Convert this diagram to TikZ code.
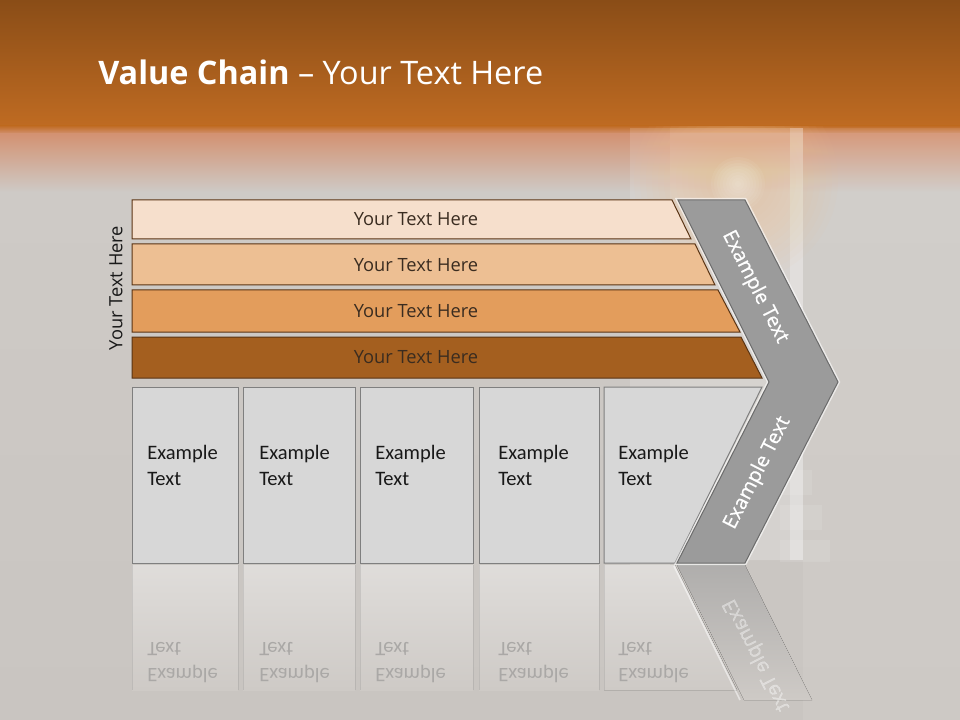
\documentclass[tikz,border=0pt]{standalone}
\usepackage{fontspec}
\setmainfont{Open Sans}
\newfontfamily\carlito{Carlito}
\newfontfamily\osemi[FakeBold=0.6]{Open Sans}
\usetikzlibrary{calc}
\definecolor{bandtop}{HTML}{8A4D17}
\definecolor{bandbot}{HTML}{BF6B22}
\definecolor{salmon}{HTML}{D39272}
\definecolor{bggrey}{HTML}{CECAC6}
\definecolor{bglow}{HTML}{C9C5C1}
\definecolor{barA}{HTML}{F6DFCC}
\definecolor{barB}{HTML}{EDBF93}
\definecolor{barC}{HTML}{E39D5C}
\definecolor{barD}{HTML}{A45F1F}
\definecolor{barline}{HTML}{5A3414}
\definecolor{bartext}{HTML}{3A2C20}
\definecolor{boxfill}{HTML}{D7D7D7}
\definecolor{boxline}{HTML}{7F7F7F}
\definecolor{chevfill}{HTML}{9B9B9B}
\definecolor{chevline}{HTML}{6B6B6B}
\definecolor{glow}{HTML}{F6C48E}
\definecolor{reftext}{HTML}{AAA8A6}
\tikzset{
  barshape/.style={draw=barline, line width=0.75pt},
  bartxt/.style={font=\fontsize{13.7}{16}\selectfont, text=bartext, inner sep=0pt},
  boxshape/.style={fill=boxfill, draw=boxline, line width=0.75pt},
  boxtxt/.style={font=\carlito\fontsize{15.4}{19.5}\selectfont, text=black!90, align=left, anchor=west, inner sep=0pt},
  reftxt/.style={font=\carlito\fontsize{15.4}{19.5}\selectfont, text=reftext, align=left, anchor=west, inner sep=0pt, yscale=-1},
  chevtxt/.style={font=\osemi\fontsize{15}{18}\selectfont, text=white, inner sep=0pt},
  refbox/.style={top color=white!35!bggrey, bottom color=bggrey},
  refline/.style={draw=gray, opacity=0.22, line width=0.75pt},
}
\begin{document}
\begin{tikzpicture}[x=0.75pt,y=-0.75pt]
\useasboundingbox (0,0) rectangle (960,720);
% ---- background
\fill[top color=bggrey, bottom color=bglow] (0,190) rectangle (960,720);
\fill[top color=bandtop, bottom color=bandbot] (0,0) rectangle (960,126);
\fill[top color=bandbot, bottom color=salmon] (0,125.5) rectangle (960,134);
\fill[top color=salmon, bottom color=bggrey] (0,133.5) rectangle (960,192);
% window light
\fill[white, opacity=0.08] (803,128) rectangle (960,720);
\fill[white, opacity=0.14] (630,128) rectangle (670,600);
\fill[white, opacity=0.20] (670,128) rectangle (790,560);
\fill[white, opacity=0.40] (790,128) rectangle (803,560);
\begin{scope}
  \clip (600,127) rectangle (860,420);
  \foreach \r in {6,12,...,102} \fill[glow, opacity=0.045] (736,180) circle (\r);
  \foreach \r in {3,6,...,27} \fill[white, opacity=0.06] (738,184) circle (\r);
\end{scope}
% stairs hint
\fill[white, opacity=0.10] (780,470) rectangle (812,495);
\fill[white, opacity=0.10] (780,505) rectangle (822,530);
\fill[white, opacity=0.10] (780,540) rectangle (830,562);
% ---- title
\node[anchor=base west, text=white, inner sep=0pt, font=\fontsize{24.3}{29}\selectfont] (title) at (98,85) {\textbf{Value Chain} – Your Text Here};
% ---- side label
\node[rotate=90, font=\fontsize{13.7}{16}\selectfont, text=black!90, inner sep=0pt] (side) at (116,288) {Your Text Here};
% ---- bars
\draw[barshape, fill=barA] (132,200) -- (672,200) -- (691,239) -- (132,239) -- cycle;
\draw[barshape, fill=barB] (132,244) -- (695,244) -- (715,285) -- (132,285) -- cycle;
\draw[barshape, fill=barC] (132,290) -- (718,290) -- (740,332) -- (132,332) -- cycle;
\draw[barshape, fill=barD] (132,337) -- (741,337) -- (762,378) -- (132,378) -- cycle;
\node[bartxt] (bar1) at (416,219) {Your Text Here};
\node[bartxt] (bar2) at (416,265) {Your Text Here};
\node[bartxt] (bar3) at (416,311) {Your Text Here};
\node[bartxt] (bar4) at (416,357) {Your Text Here};
% ---- reflections
\foreach \xa/\xb in {132/238,243/355,360/473,479/599} {
  \fill[refbox] (\xa,565) rectangle (\xb,690);
  \draw[refline] (\xa,565) -- (\xa,690) (\xb,565) -- (\xb,690);
}
\fill[refbox] (604,565) -- (675,565) -- (737,690) -- (604,690) -- cycle;
\draw[refline] (604,565) -- (604,690);
\fill[top color=chevfill!60!bggrey, bottom color=bggrey] (677,565) -- (745,565) -- (812,700) -- (744,700) -- cycle;
\draw[white, opacity=0.5, line width=1.2pt] (674,566) -- (740,700);
\node[reftxt] (r1) at (147,663) {Example\\Text};
\node[reftxt] (r2) at (259,663) {Example\\Text};
\node[reftxt] (r3) at (375,663) {Example\\Text};
\node[reftxt] (r4) at (498,663) {Example\\Text};
\node[reftxt] (r5) at (618,663) {Example\\Text};
\node[chevtxt, rotate=-63, yscale=-1, opacity=0.4] (rc) at (757,655) {Example Text};
% ---- boxes
\draw[boxshape] (132,387) rectangle (238,563);
\draw[boxshape] (243,387) rectangle (355,563);
\draw[boxshape] (360,387) rectangle (473,563);
\draw[boxshape] (479,387) rectangle (599,563);
\draw[boxshape] (604,387) -- (762,387) -- (675,563) -- (604,563) -- cycle;
\node[boxtxt] (t1) at (147,465) {Example\\Text};
\node[boxtxt] (t2) at (259,465) {Example\\Text};
\node[boxtxt] (t3) at (375,465) {Example\\Text};
\node[boxtxt] (t4) at (498,465) {Example\\Text};
\node[boxtxt] (t5) at (618,465) {Example\\Text};
% ---- chevron
\draw[white, opacity=0.6, line width=3pt, line join=miter] (678,200) -- (745,200) -- (838,382) -- (745,563) -- (677,563) -- (769,382) -- cycle;
\draw[fill=chevfill, draw=chevline, line width=0.75pt] (678,200) -- (745,200) -- (838,382) -- (745,563) -- (677,563) -- (769,382) -- cycle;
\node[chevtxt, rotate=-63] (c1) at (755,287) {Example Text};
\node[chevtxt, rotate=63] (c2) at (757.5,473) {Example Text};
\end{tikzpicture}
\end{document}
